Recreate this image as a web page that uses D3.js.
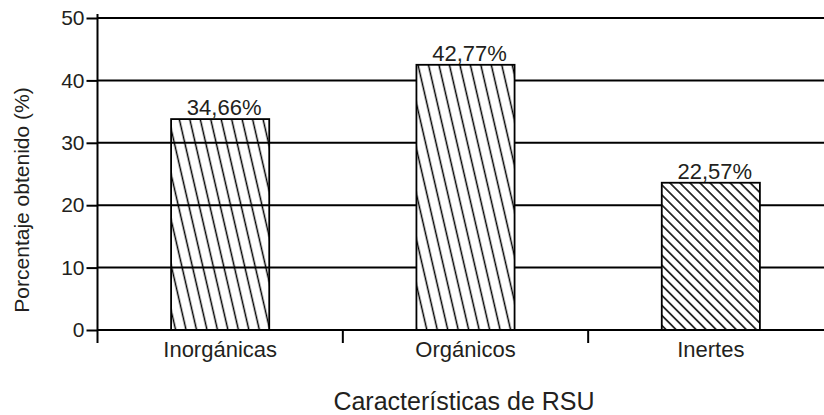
<!DOCTYPE html>
<html>
<head>
<meta charset="utf-8">
<script src="https://cdn.jsdelivr.net/npm/d3@7"></script>
<style>
  html, body { margin: 0; padding: 0; background: #fff; }
  text { font-family: "Liberation Sans", Arial, Helvetica, sans-serif; fill: #231f20; }
</style>
</head>
<body>
<svg id="chart" width="824" height="415"></svg>
<script>
const categories = ["Inorgánicas", "Orgánicos", "Inertes"];
const values = [33.8, 42.5, 23.6];
const valueLabels = ["34,66%", "42,77%", "22,57%"];
const yTicks = [0, 10, 20, 30, 40, 50];
const yTitle = "Porcentaje obtenido (%)";
const xTitle = "Características de RSU";

const svg = d3.select("#chart");
const W = 824;
const left = 97.5;

const y = d3.scaleLinear().domain([0, 50]).range([330, 18]);
const x = d3.scaleBand().domain(categories).range([left, 833.5]).paddingInner(0.6).paddingOuter(0.3);

// patterns
const defs = svg.append("defs");
function hatch(id, angle, size) {
  const p = defs.append("pattern").attr("id", id).attr("patternUnits", "userSpaceOnUse")
    .attr("width", size).attr("height", size).attr("patternTransform", `rotate(${angle})`);
  p.append("rect").attr("width", size).attr("height", size).attr("fill", "none");
  p.append("line").attr("x1", size / 2).attr("x2", size / 2).attr("y1", -1).attr("y2", size + 1)
    .attr("stroke", "#000").attr("stroke-width", 1.5);
}
hatch("steep", -13, 10.2);
hatch("diag", -45, 7.1);

// gridlines (white-filled bars later cover them)
const grid = svg.append("g");
grid.selectAll("line.g").data(yTicks).join("line")
  .attr("x1", left).attr("x2", W).attr("y1", d => y(d)).attr("y2", d => y(d))
  .attr("stroke", "#000").attr("stroke-width", 2);

// bars
const bars = svg.append("g");
categories.forEach((c, i) => {
  const g = bars.append("g");
  const bx = x(c), bw = x.bandwidth(), by = y(values[i]), bh = y(0) - y(values[i]);
  if (i > 0) g.append("rect").attr("x", bx).attr("y", by).attr("width", bw).attr("height", bh).attr("fill", "#fff");
  g.append("rect").attr("x", bx).attr("y", by).attr("width", bw).attr("height", bh)
    .attr("fill", i === 2 ? "url(#diag)" : "url(#steep)");
  g.append("rect").attr("x", bx).attr("y", by).attr("width", bw).attr("height", bh)
    .attr("fill", "none").attr("stroke", "#000").attr("stroke-width", 1.8);
  g.append("text").attr("x", bx + bw / 2 + 4).attr("y", by - 4).attr("text-anchor", "middle")
    .attr("font-size", 22).text(valueLabels[i]);
});

// baseline redraw
svg.append("line").attr("x1", left).attr("x2", W).attr("y1", y(0)).attr("y2", y(0))
  .attr("stroke", "#000").attr("stroke-width", 2);

// y axis
const yAxis = d3.axisLeft(y).tickValues(yTicks).tickSize(11).tickPadding(2).tickFormat(d3.format("d"));
const ya = svg.append("g").attr("transform", `translate(${left},0)`).call(yAxis);
ya.select(".domain").remove();
ya.selectAll(".tick line").attr("stroke", "#000").attr("stroke-width", 2);
ya.selectAll(".tick text").attr("font-size", 21).attr("font-family", "Liberation Sans, Arial, sans-serif").attr("fill", "#231f20");
svg.append("line").attr("x1", left).attr("x2", left).attr("y1", 14).attr("y2", 343)
  .attr("stroke", "#000").attr("stroke-width", 2);

// x axis
const step = x.step();
const boundaries = categories.slice(1).map(c => x(c) - (step - x.bandwidth()) / 2);
svg.append("g").selectAll("line").data(boundaries).join("line")
  .attr("x1", d => d).attr("x2", d => d).attr("y1", y(0)).attr("y2", 343)
  .attr("stroke", "#000").attr("stroke-width", 2);
svg.append("g").selectAll("text").data(categories).join("text")
  .attr("x", d => x(d) + x.bandwidth() / 2).attr("y", 357).attr("text-anchor", "middle")
  .attr("font-size", 22).text(d => d);

// titles
svg.append("text").attr("transform", "translate(29,200) rotate(-90)").attr("text-anchor", "middle")
  .attr("font-size", 21).text(yTitle);
svg.append("text").attr("x", 464).attr("y", 410).attr("text-anchor", "middle")
  .attr("font-size", 25).text(xTitle);
</script>
</body>
</html>
